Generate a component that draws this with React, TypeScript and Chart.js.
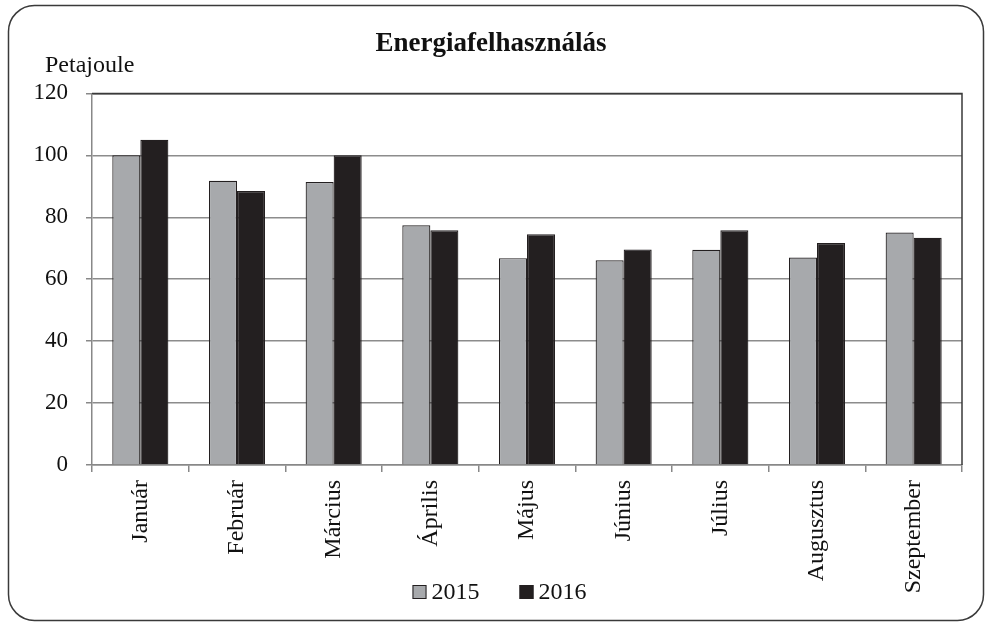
import React, { useEffect, useRef } from "react";
import { Chart, registerables } from "chart.js";

Chart.register(...registerables);

const categories = ["Január", "Február", "Március", "Április", "Május", "Június", "Július", "Augusztus", "Szeptember"];
const values2015 = [100, 91.8, 91.4, 77.4, 66.8, 66.1, 69.5, 67.0, 75.1];
const values2016 = [105, 88.5, 100, 75.8, 74.5, 69.6, 75.8, 71.7, 73.4];
const seriesLabels = ["2015", "2016"];
const seriesColors = ["#a7a9ac", "#231f20"];
const titleText = "Energiafelhasználás";
const unitText = "Petajoule";

const FONT = "'Liberation Serif', 'Times New Roman', serif";

const framePlugin = {
  id: "frame",
  beforeDraw(chart: any) {
    const ctx = chart.ctx;
    ctx.save();
    ctx.fillStyle = "#ffffff";
    ctx.fillRect(0, 0, chart.width, chart.height);
    ctx.beginPath();
    (ctx as any).roundRect(8.5, 5.5, 975, 615, 26);
    ctx.strokeStyle = "#3a3a3a";
    ctx.lineWidth = 1.5;
    ctx.stroke();
    ctx.restore();
  },
  afterDraw(chart: any) {
    const ctx = chart.ctx;
    const a = chart.chartArea;
    ctx.save();
    // plot border top & right
    ctx.strokeStyle = "#3a3a3a";
    ctx.lineWidth = 1.5;
    ctx.beginPath();
    ctx.moveTo(a.left, a.top);
    ctx.lineTo(a.right, a.top);
    ctx.lineTo(a.right, a.bottom);
    ctx.stroke();
    // unit label
    ctx.fillStyle = "#111";
    ctx.font = `24px ${FONT}`;
    ctx.textAlign = "left";
    ctx.textBaseline = "alphabetic";
    ctx.fillText(unitText, 45, 72);
    // legend
    const items = chart.data.datasets.map((d: any) => ({ label: d.label, color: d.backgroundColor }));
    ctx.font = `24px ${FONT}`;
    const box = 14;
    const gapBoxText = 5;
    const gapItems = 40;
    const widths = items.map((it: any) => box + gapBoxText + ctx.measureText(it.label).width);
    const total = widths.reduce((s: number, w: number) => s + w, 0) + gapItems * (items.length - 1);
    let x = chart.width / 2 - total / 2 + 5;
    const cy = 592;
    items.forEach((it: any, i: number) => {
      ctx.fillStyle = it.color;
      ctx.fillRect(x, cy - box / 2, box, box);
      ctx.strokeStyle = "#231f20";
      ctx.lineWidth = 1;
      ctx.strokeRect(x + 0.5, cy - box / 2 + 0.5, box - 1, box - 1);
      ctx.fillStyle = "#111";
      ctx.textBaseline = "alphabetic";
      ctx.fillText(it.label, x + box + gapBoxText, cy + 7);
      x += widths[i] + gapItems;
    });
    ctx.restore();
  },
};

export default function App() {
  const ref = useRef<HTMLCanvasElement | null>(null);
  useEffect(() => {
    if (!ref.current) return;
    const chart = new Chart(ref.current, {
      type: "bar",
      data: {
        labels: categories,
        datasets: [
          {
            label: seriesLabels[0],
            data: values2015,
            backgroundColor: seriesColors[0],
            borderColor: "#231f20",
            borderWidth: 1.2,
            barPercentage: 1,
            categoryPercentage: 0.58,
          },
          {
            label: seriesLabels[1],
            data: values2016,
            backgroundColor: seriesColors[1],
            borderColor: "#231f20",
            borderWidth: 1.2,
            barPercentage: 1,
            categoryPercentage: 0.58,
          },
        ],
      },
      options: {
        responsive: false,
        animation: false,
        devicePixelRatio: 1,
        layout: { padding: { left: 20, right: 27, top: 0, bottom: 25 } },
        plugins: {
          title: {
            display: true,
            text: titleText,
            color: "#111",
            font: { family: FONT, size: 27, weight: "bold", lineHeight: 1.2 },
            padding: { top: 28, bottom: 33 },
          },
          legend: { display: false },
          tooltip: { enabled: false },
        },
        scales: {
          x: {
            afterFit(scale: any) {
              scale.height = 135;
            },
            grid: {
              offset: true,
              drawOnChartArea: false,
              drawTicks: true,
              tickLength: 7,
              color: "#888",
              lineWidth: 1.5,
            },
            border: { color: "#888", width: 1.5 },
            ticks: {
              color: "#111",
              font: { family: FONT, size: 24 },
              minRotation: 90,
              maxRotation: 90,
              autoSkip: false,
              padding: 8,
            },
          },
          y: {
            min: 0,
            max: 120,
            afterFit(scale: any) {
              scale.width = 72;
            },
            grid: {
              color: (c: any) => (c.tick && c.tick.value === 120 ? "#3a3a3a" : "#8c8c8c"),
              lineWidth: 1.5,
              tickLength: 6,
              tickColor: "#888",
            },
            border: { color: "#888", width: 1.5 },
            ticks: {
              stepSize: 20,
              color: "#111",
              font: { family: FONT, size: 23 },
              padding: 18,
            },
          },
        },
      },
      plugins: [framePlugin],
    } as any);
    return () => chart.destroy();
  }, []);
  return (
    <div style={{ position: "fixed", left: 0, top: 0, width: 989, height: 625, background: "#fff" }}>
      <canvas ref={ref} width={989} height={625} style={{ display: "block" }} />
    </div>
  );
}
